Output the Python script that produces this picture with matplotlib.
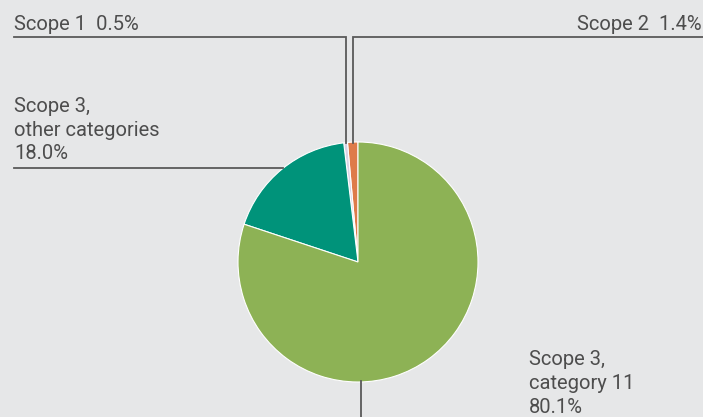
import matplotlib
matplotlib.use("Agg")
import matplotlib.pyplot as plt

# Data (counterclockwise from 12 o'clock)
labels = ["Scope 2", "Scope 1", "Scope 3, other categories", "Scope 3, category 11"]
values = [1.4, 0.5, 18.0, 80.1]
colors = ["#de7b4a", "#d9d2e6", "#00937a", "#8db255"]

W, H = 703, 417
fig = plt.figure(figsize=(W / 100, H / 100), dpi=100)
fig.patch.set_facecolor("#e6e7e8")
ax = fig.add_axes([0, 0, 1, 1])

def Y(y):
    return H - y

cx, cy, r = 358, Y(262), 120
ax.pie(values, colors=colors, startangle=90, counterclock=True,
       center=(cx, cy), radius=r, frame=True,
       wedgeprops=dict(edgecolor="white", linewidth=0.8))
ax.set_xlim(0, W)
ax.set_ylim(0, H)
ax.set_aspect("equal")
ax.axis("off")

lc = "#5a5a5a"
lw = 1.3
# Scope 1 leader
ax.plot([345.5, 345.5, 14], [Y(143), Y(37), Y(37)], color=lc, lw=lw, solid_joinstyle="miter")
# Scope 2 leader
ax.plot([352.5, 352.5, 703], [Y(143), Y(37), Y(37)], color=lc, lw=lw, solid_joinstyle="miter")
# Scope 3 other leader
ax.plot([14, 283], [Y(168), Y(168)], color=lc, lw=lw)
# Scope 3 cat 11 leader
ax.plot([360.5, 360.5], [Y(381), Y(417)], color=lc, lw=lw)

tc = "#4d4d4d"
fs = 14.5
fam = ["Roboto", "DejaVu Sans"]
kw = dict(color=tc, fontsize=fs, family=fam, fontweight="normal", va="baseline")

ax.text(14, Y(30), "Scope 1  0.5%", ha="left", **kw)
ax.text(702, Y(30), "Scope 2  1.4%", ha="right", **kw)
ax.text(14, Y(112), "Scope 3,", ha="left", **kw)
ax.text(14, Y(135.5), "other categories", ha="left", **kw)
ax.text(14, Y(159), "18.0%", ha="left", **kw)
ax.text(529, Y(365), "Scope 3,", ha="left", **kw)
ax.text(529, Y(389), "category 11", ha="left", **kw)
ax.text(529, Y(413), "80.1%", ha="left", **kw)

fig.savefig("out.png", dpi=100, facecolor=fig.get_facecolor())
